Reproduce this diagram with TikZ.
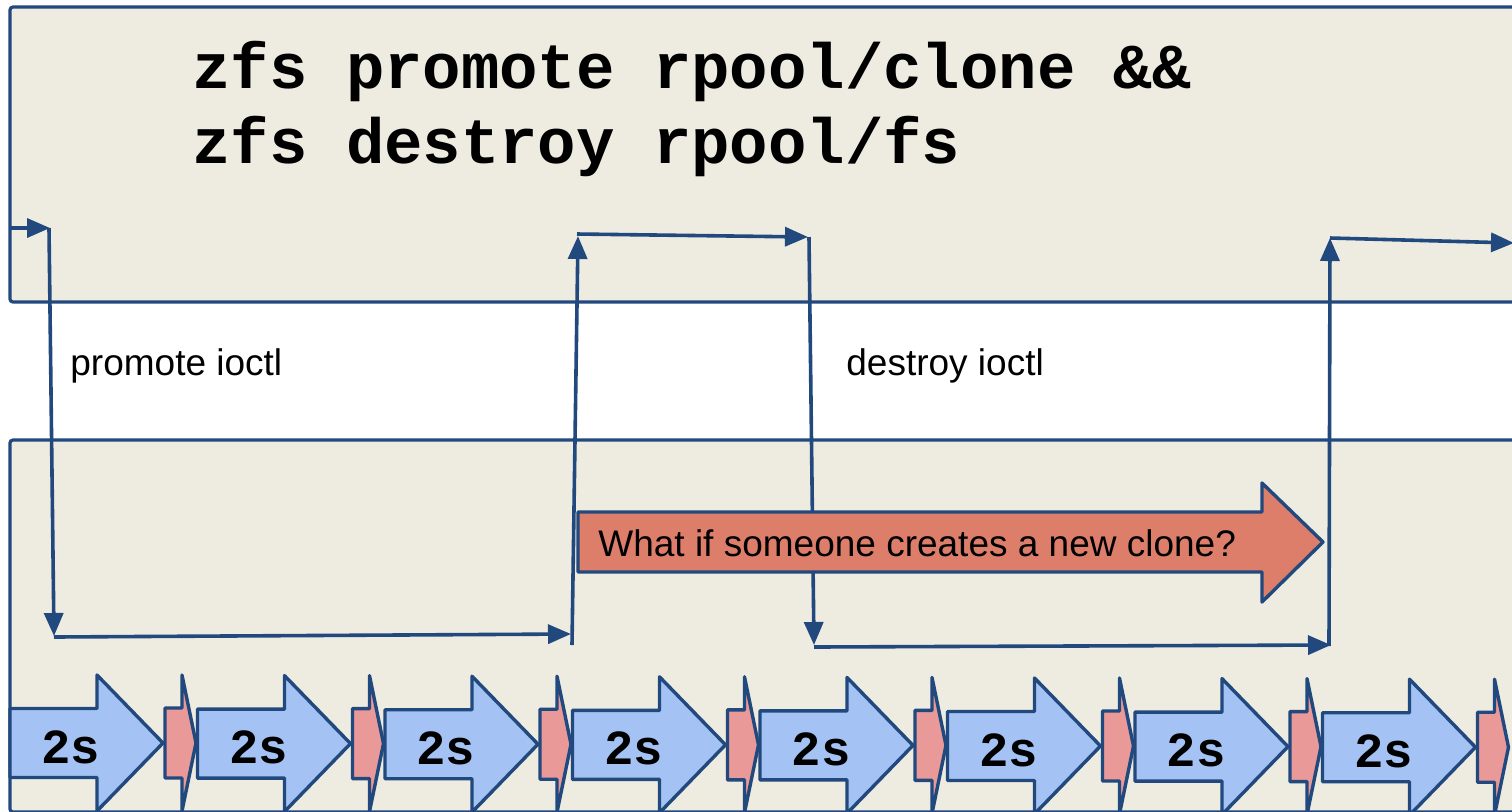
\documentclass[tikz,border=0pt]{standalone}
\usepackage{fontspec}
\setmainfont{Liberation Sans}
\newfontfamily\cmdfont{Liberation Mono}
\usetikzlibrary{arrows.meta}
\definecolor{panel}{HTML}{EEECE1}
\definecolor{ink}{HTML}{21497E}
\definecolor{tickfill}{HTML}{A4C2F4}
\definecolor{gapfill}{HTML}{EA9999}
\definecolor{warnfill}{HTML}{DD7E6B}
\begin{document}
\begin{tikzpicture}[x=0.5pt,y=-0.5pt,
  panelbox/.style={draw=ink,line width=1.6pt,fill=panel,rounded corners=1.5pt},
  flow/.style={draw=ink,line width=1.8pt,-{Triangle[length=11.5pt,width=9.5pt]}},
  cmd/.style={font=\cmdfont\bfseries\fontsize{32}{38}\selectfont,anchor=base west,inner sep=0pt},
  lbl/.style={font=\fontsize{18.5}{22}\selectfont,anchor=base west,inner sep=0pt},
  ticklabel/.style={font=\cmdfont\bfseries\fontsize{24.5}{28}\selectfont,inner sep=0pt},
  shapeline/.style={draw=ink,line width=1.7pt,line join=round},
  pics/tickpair/.style={code={
    % two-second interval followed by a short gap
    \draw[shapeline,fill=tickfill] (0,-34.5) -- (87,-34.5) -- (87,-68) -- (153,0)
      -- (87,68) -- (87,34.5) -- (0,34.5) -- cycle;
    \draw[shapeline,fill=gapfill] (155,-35) -- (172,-35) -- (172,-68) -- (186,0)
      -- (172,68) -- (172,35) -- (155,35) -- cycle;
    \node[ticklabel] (-lab) at (61,4) {2s};
  }}]
\useasboundingbox (0,0) rectangle (1512,811);
\clip (0,0) rectangle (1512,811);
\fill[white] (0,0) rectangle (1512,811);

% userland panel and kernel panel
\draw[panelbox] (10,7) rectangle (1540,302);
\draw[panelbox] (10,440) rectangle (1540,812);

% commands
\node[cmd] (c1) at (192,88) {zfs promote rpool/clone \&\&};
\node[cmd] (c2) at (192,163) {zfs destroy rpool/fs};

% ioctl labels
\node[lbl] (pl) at (70,375) {promote ioctl};
\node[lbl] (dl) at (846,375) {destroy ioctl};

% control flow between userland and kernel
\coordinate (k0) at (10,228);
\coordinate (k1) at (50,228);
\coordinate (k1b) at (49,228);
\coordinate (k2) at (54,636);
\coordinate (k2b) at (54,637);
\coordinate (k3) at (571,634);
\coordinate (k3b) at (572,645);
\coordinate (k4) at (578,236);
\coordinate (k4b) at (577,234);
\coordinate (k5) at (808,237);
\coordinate (k5b) at (809,237);
\coordinate (k6) at (814,645);
\coordinate (k6b) at (814,647);
\coordinate (k7) at (1331,645);
\coordinate (k7b) at (1329,646);
\coordinate (k8) at (1330,238);
\coordinate (k8b) at (1330,238);
\coordinate (k9) at (1514,243);

\draw[flow] (k0) -- (k1);
\draw[flow] (k1b) -- (k2);
\draw[flow] (k2b) -- (k3);
\draw[flow] (k3b) -- (k4);
\draw[flow] (k4b) -- (k5);
\draw[flow] (k5b) -- (k6);
\draw[flow] (k6b) -- (k7);
\draw[flow] (k7b) -- (k8);
\draw[flow] (k8b) -- (k9);

% race window
\draw[shapeline,fill=warnfill] (578,512) -- (1262,512) -- (1262,483) -- (1323,542)
  -- (1262,602) -- (1262,572) -- (578,572) -- cycle;
\node[lbl] (q) at (598,556) {What if someone creates a new clone?};

% txg sync timeline
\foreach \i in {0,...,7}
  \pic (t\i) at ({10+187.5*\i},{743+0.6*\i}) {tickpair};
\end{tikzpicture}
\end{document}
